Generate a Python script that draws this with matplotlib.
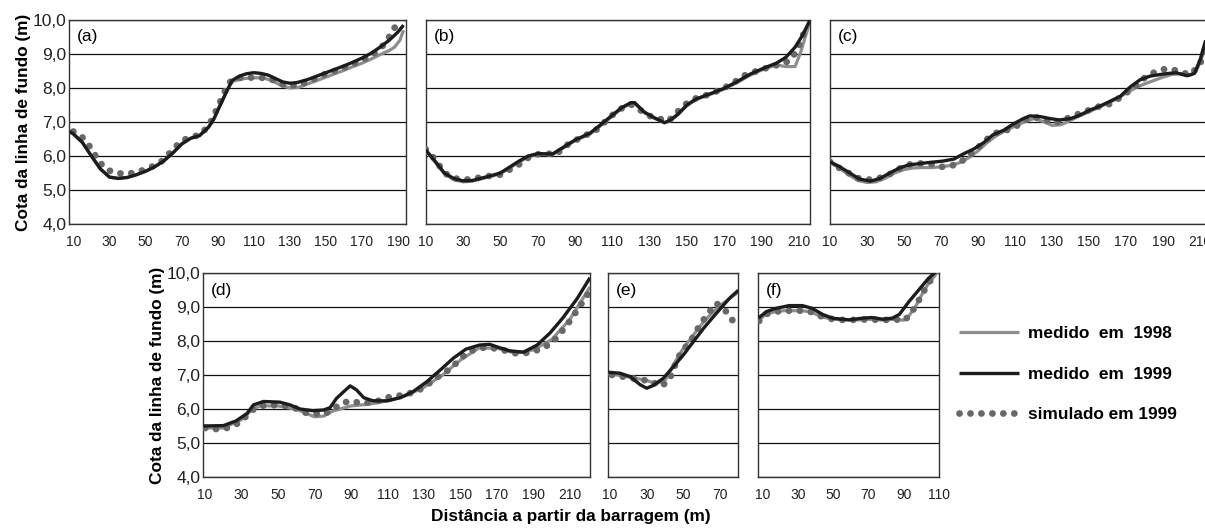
import matplotlib
matplotlib.use("Agg")
import matplotlib.pyplot as plt

plt.rcParams['font.family'] = ['Liberation Sans', 'DejaVu Sans']

# ---------------- data ----------------
# panel (a)
a_x_99 = [8, 10, 15, 20, 25, 30, 35, 40, 45, 50, 55, 60, 65, 70, 75, 80, 85, 88, 91, 95, 98, 102, 106, 110,
          114, 118, 122, 126, 130, 134, 140, 145, 150, 155, 160, 165, 170, 175, 180, 185, 190, 193]
a_y_99 = [6.72, 6.65, 6.4, 6.0, 5.62, 5.38, 5.34, 5.37, 5.45, 5.55, 5.68, 5.85, 6.08, 6.35, 6.52, 6.6, 6.85,
          7.1, 7.45, 7.9, 8.22, 8.35, 8.42, 8.45, 8.43, 8.38, 8.28, 8.18, 8.14, 8.16, 8.25, 8.35, 8.45, 8.55,
          8.65, 8.76, 8.88, 9.02, 9.2, 9.4, 9.65, 9.85]
a_x_98 = [8, 10, 15, 20, 25, 30, 35, 40, 45, 50, 55, 60, 65, 70, 75, 80, 85, 88, 91, 95, 98, 100, 105, 110,
          115, 120, 125, 130, 135, 140, 145, 150, 155, 160, 165, 170, 175, 180, 185, 188, 191, 193]
a_y_98 = [6.72, 6.65, 6.4, 6.0, 5.62, 5.38, 5.34, 5.37, 5.45, 5.55, 5.68, 5.85, 6.08, 6.35, 6.52, 6.6, 6.85,
          7.1, 7.45, 7.9, 8.2, 8.22, 8.28, 8.3, 8.3, 8.22, 8.08, 8.0, 8.02, 8.12, 8.22, 8.32, 8.42, 8.52,
          8.63, 8.73, 8.85, 8.98, 9.1, 9.2, 9.4, 9.7]
a_x_sim = [10, 15, 20, 24, 28, 33, 40, 45, 50, 55, 60, 65, 70, 75, 80, 85, 88, 91, 94, 97, 100, 105, 110,
           115, 120, 125, 130, 135, 140, 145, 150, 155, 160, 165, 170, 175, 180, 184, 187, 190, 192]
a_y_sim = [6.72, 6.55, 6.22, 5.85, 5.62, 5.5, 5.47, 5.53, 5.6, 5.72, 5.88, 6.18, 6.45, 6.55, 6.62, 6.88,
           7.2, 7.55, 7.9, 8.18, 8.28, 8.32, 8.3, 8.3, 8.25, 8.12, 8.06, 8.1, 8.18, 8.3, 8.42, 8.5, 8.6,
           8.7, 8.82, 8.95, 9.15, 9.4, 9.7, 9.9, 9.95]

# panel (b)
b_x_99 = [10, 15, 20, 25, 30, 35, 45, 50, 60, 65, 70, 78, 85, 90, 98, 104, 110, 115, 120, 122, 127, 132,
          138, 141, 145, 150, 155, 162, 170, 177, 184, 191, 198, 203, 208, 212, 216]
b_y_99 = [6.18, 5.85, 5.5, 5.34, 5.27, 5.28, 5.42, 5.5, 5.85, 6.0, 6.07, 6.06, 6.3, 6.47, 6.67, 6.93, 7.2,
          7.42, 7.57, 7.57, 7.3, 7.14, 6.98, 7.05, 7.22, 7.5, 7.68, 7.82, 7.99, 8.19, 8.41, 8.58, 8.73,
          8.9, 9.2, 9.55, 10.0]
b_x_98 = [10, 15, 20, 25, 30, 35, 45, 50, 60, 65, 70, 78, 85, 90, 98, 104, 110, 115, 120, 122, 127, 132,
          138, 141, 145, 150, 155, 162, 170, 177, 184, 191, 198, 203, 208, 211, 214, 216]
b_y_98 = [6.15, 5.82, 5.48, 5.3, 5.24, 5.26, 5.4, 5.48, 5.82, 5.98, 6.05, 6.04, 6.28, 6.45, 6.64, 6.9, 7.17,
          7.4, 7.55, 7.55, 7.28, 7.12, 6.98, 7.03, 7.2, 7.48, 7.66, 7.8, 7.97, 8.16, 8.38, 8.55, 8.68,
          8.63, 8.63, 9.05, 9.6, 9.95]
b_x_sim = [10, 15, 20, 25, 30, 35, 40, 45, 50, 55, 60, 65, 70, 75, 80, 85, 90, 95, 100, 105, 110, 115, 120,
           125, 130, 135, 140, 145, 150, 155, 160, 165, 170, 175, 180, 185, 190, 195, 200, 205, 209, 212, 214]
b_y_sim = [6.2, 5.9, 5.5, 5.35, 5.3, 5.32, 5.38, 5.42, 5.45, 5.6, 5.75, 5.95, 6.05, 6.07, 6.05, 6.3, 6.45,
           6.6, 6.7, 6.95, 7.2, 7.4, 7.52, 7.35, 7.18, 7.1, 7.02, 7.3, 7.55, 7.7, 7.78, 7.88, 8.0, 8.15, 8.35,
           8.45, 8.55, 8.62, 8.7, 8.8, 9.1, 9.5, 9.85]

# panel (c)
c_x_99 = [10, 15, 21, 26, 32, 37, 42, 48, 53, 62, 71, 77, 82, 87.5, 93, 98, 104, 109, 114.5, 118, 123.5, 129,
          134, 140, 145, 150.5, 156, 161, 167, 172, 177.5, 183, 190, 197, 203, 207, 210, 213]
c_y_99 = [5.83, 5.69, 5.49, 5.32, 5.26, 5.34, 5.49, 5.66, 5.74, 5.8, 5.85, 5.91, 6.06, 6.2, 6.39, 6.62, 6.76,
          6.94, 7.1, 7.18, 7.16, 7.1, 7.06, 7.1, 7.2, 7.35, 7.47, 7.6, 7.76, 8.02, 8.24, 8.35, 8.41, 8.45,
          8.36, 8.43, 8.82, 9.4]
c_x_98 = [10, 15, 20, 25, 30, 35, 40, 45, 50, 55, 60, 65, 70, 75, 80, 85, 90, 95, 100, 105, 110, 115, 120,
          125, 130, 135, 140, 145, 150, 155, 160, 165, 170, 175, 180, 185, 190, 195, 200, 205, 208, 211, 213]
c_y_98 = [5.8, 5.65, 5.45, 5.28, 5.22, 5.24, 5.35, 5.5, 5.6, 5.65, 5.66, 5.66, 5.68, 5.72, 5.8, 5.95, 6.15,
          6.4, 6.6, 6.75, 6.88, 7.0, 7.1, 7.02, 6.9, 6.92, 7.05, 7.18, 7.3, 7.42, 7.55, 7.68, 7.85, 8.0,
          8.12, 8.22, 8.32, 8.4, 8.42, 8.38, 8.5, 8.9, 9.2]
c_x_sim = [10, 15, 20, 25, 30, 35, 40, 45, 50, 55, 60, 65, 70, 75, 80, 85, 90, 95, 100, 105, 110, 115, 120,
           125, 130, 135, 140, 145, 150, 155, 160, 165, 170, 175, 180, 185, 190, 195, 200, 205, 210, 213]
c_y_sim = [5.83, 5.65, 5.5, 5.35, 5.3, 5.33, 5.4, 5.55, 5.7, 5.78, 5.78, 5.76, 5.68, 5.7, 5.8, 6.0, 6.25,
           6.5, 6.68, 6.75, 6.85, 7.05, 7.15, 7.1, 6.98, 7.02, 7.15, 7.25, 7.35, 7.45, 7.5, 7.65, 7.85, 8.05,
           8.3, 8.45, 8.55, 8.55, 8.45, 8.4, 8.7, 9.2]

# panel (d)
d_x_99 = [9, 20, 27, 33, 36.5, 42, 51, 56.5, 62, 69, 75, 78.5, 82, 86, 89.5, 93, 97, 102, 110, 117, 124,
          131.5, 139, 146, 153, 160.5, 166, 171.5, 177, 184.5, 192, 199, 206, 214, 221]
d_y_99 = [5.51, 5.52, 5.66, 5.88, 6.13, 6.23, 6.21, 6.13, 6.01, 5.96, 5.98, 6.05, 6.32, 6.52, 6.69, 6.57,
          6.34, 6.25, 6.25, 6.34, 6.52, 6.81, 7.16, 7.5, 7.77, 7.89, 7.91, 7.81, 7.72, 7.68, 7.89, 8.24,
          8.68, 9.26, 9.87]
d_x_98 = [9, 20, 30, 36, 40, 50, 60, 70, 75, 80, 90, 100, 110, 120, 130, 140, 150, 160, 170, 180, 190,
          200, 210, 221]
d_y_98 = [5.45, 5.45, 5.7, 6.0, 6.1, 6.1, 6.0, 5.78, 5.8, 5.95, 6.1, 6.15, 6.25, 6.4, 6.65, 7.0, 7.45,
          7.8, 7.8, 7.65, 7.75, 8.05, 8.65, 9.6]
d_x_sim = [10, 15, 20, 25, 30, 35, 40, 45, 50, 55, 60, 65, 70, 75, 80, 85, 90, 95, 100, 105, 110, 115,
           120, 125, 130, 135, 140, 145, 150, 155, 160, 165, 170, 175, 180, 185, 190, 195, 200, 205, 210,
           215, 220]
d_y_sim = [5.45, 5.42, 5.42, 5.5, 5.65, 5.95, 6.1, 6.12, 6.12, 6.1, 6.02, 5.9, 5.88, 5.85, 6.0, 6.18, 6.25,
           6.18, 6.2, 6.25, 6.35, 6.38, 6.45, 6.5, 6.65, 6.85, 7.05, 7.2, 7.5, 7.7, 7.8, 7.82, 7.78, 7.72,
           7.65, 7.65, 7.7, 7.8, 7.95, 8.25, 8.6, 9.0, 9.4]

# panel (e)
e_x_99 = [9, 15.5, 21, 26.5, 30, 33.5, 39, 44.5, 50, 55.5, 61, 66.5, 72, 75.5, 80]
e_y_99 = [7.09, 7.06, 6.96, 6.72, 6.62, 6.7, 6.91, 7.25, 7.6, 7.99, 8.38, 8.73, 9.07, 9.28, 9.5]
e_x_98 = [9, 15, 20, 25, 30, 35, 40, 45, 50, 55, 60, 65, 70, 75, 80]
e_y_98 = [7.05, 7.0, 6.95, 6.9, 6.85, 6.75, 6.85, 7.35, 7.8, 8.15, 8.5, 8.8, 9.05, 9.25, 9.45]
e_x_sim = [11, 17, 24.5, 32, 38, 42.5, 45.5, 48, 52, 55.5, 59, 63.5, 68, 73.5, 78]
e_y_sim = [7.01, 6.96, 6.89, 6.83, 6.67, 6.89, 7.3, 7.6, 7.89, 8.14, 8.48, 8.82, 9.12, 8.87, 8.53]

# panel (f)
f_x_99 = [7.5, 12, 17.5, 25, 32.5, 38, 44, 49.5, 59, 66.5, 72, 78, 83.5, 87.5, 93, 98.5, 104, 109.5]
f_y_99 = [8.68, 8.87, 8.97, 9.05, 9.05, 8.97, 8.79, 8.68, 8.63, 8.68, 8.7, 8.65, 8.68, 8.79, 9.17, 9.51,
          9.85, 10.1]
f_x_98 = [7.5, 12, 17, 22, 27, 32, 37, 40, 45, 50, 55, 60, 65, 70, 75, 80, 85, 90, 93, 97, 100, 104, 109.5]
f_y_98 = [8.62, 8.8, 8.87, 8.9, 8.9, 8.9, 8.87, 8.8, 8.7, 8.65, 8.63, 8.63, 8.63, 8.65, 8.63, 8.63, 8.65,
          8.62, 8.75, 9.05, 9.35, 9.7, 10.05]
f_x_sim = [8, 12, 17, 22, 27, 32, 37, 40, 45, 50, 55, 60, 65, 70, 75, 80, 85, 90, 93, 97, 100, 104, 108]
f_y_sim = [8.6, 8.8, 8.87, 8.9, 8.9, 8.9, 8.87, 8.8, 8.7, 8.65, 8.63, 8.63, 8.63, 8.65, 8.63, 8.63, 8.65,
           8.6, 8.75, 9.05, 9.35, 9.7, 10.0]

y_ticks = [4.0, 5.0, 6.0, 7.0, 8.0, 9.0, 10.0]
y_tick_labels = ['4,0', '5,0', '6,0', '7,0', '8,0', '9,0', '10,0']
legend_labels = ['medido  em  1998', 'medido  em  1999', 'simulado em 1999']
y_label = 'Cota da linha de fundo (m)'
x_label = 'Distância a partir da barragem (m)'

# ---------------- figure ----------------
W, H = 1205, 529
fig = plt.figure(figsize=(W / 100, H / 100), dpi=100)

C98 = '#8e8e8e'
C99 = '#1c1c1c'
CSIM = '#686868'


def make_ax(l, r, t, b):
    return fig.add_axes([l / W, 1 - b / H, (r - l) / W, (b - t) / H])


panels = [
    ('(a)', (69, 406, 20, 224), (7.6, 194.4), list(range(10, 191, 20)),
     (a_x_98, a_y_98), (a_x_99, a_y_99), (a_x_sim, a_y_sim), True),
    ('(b)', (425.7, 810, 20, 224), (10, 216), list(range(10, 211, 20)),
     (b_x_98, b_y_98), (b_x_99, b_y_99), (b_x_sim, b_y_sim), False),
    ('(c)', (830, 1208, 20, 224), (10, 214.3), list(range(10, 211, 20)),
     (c_x_98, c_y_98), (c_x_99, c_y_99), (c_x_sim, c_y_sim), False),
    ('(d)', (203.3, 590, 273.3, 477.3), (9, 221), list(range(10, 211, 20)),
     (d_x_98, d_y_98), (d_x_99, d_y_99), (d_x_sim, d_y_sim), True),
    ('(e)', (608.3, 738.3, 273.3, 477.3), (9, 80), list(range(10, 71, 20)),
     (e_x_98, e_y_98), (e_x_99, e_y_99), (e_x_sim, e_y_sim), False),
    ('(f)', (758.3, 939, 273.3, 477.3), (7.5, 109.5), list(range(10, 111, 20)),
     (f_x_98, f_y_98), (f_x_99, f_y_99), (f_x_sim, f_y_sim), False),
]

handles = None
for tag, box, xlim, xt, s98, s99, ssim, show_y in panels:
    ax = make_ax(*box)
    ax.set_xlim(*xlim)
    ax.set_ylim(4, 10)
    ax.set_yticks(y_ticks)
    ax.set_xticks(xt)
    ax.set_xticklabels([str(v) for v in xt], fontsize=10)
    if show_y:
        ax.set_yticklabels(y_tick_labels, fontsize=12.5)
        ax.set_ylabel(y_label, fontsize=12.4, fontweight='bold', labelpad=1)
    else:
        ax.set_yticklabels([])
    ax.tick_params(axis='both', length=0, colors='#222222')
    ax.tick_params(axis='x', pad=8)
    ax.tick_params(axis='y', pad=2)
    ax.yaxis.grid(True, color='#111111', lw=0.9)
    ax.set_axisbelow(True)
    for sp in ax.spines.values():
        sp.set_color('#333333')
        sp.set_linewidth(1.0)
    l98, = ax.plot(s98[0], s98[1], color=C98, lw=2.3, solid_capstyle='butt', zorder=3)
    lsim, = ax.plot(ssim[0], ssim[1], color=CSIM, lw=4.9, linestyle=(0, (0.01, 1.6)),
                    dash_capstyle='round', zorder=4)
    l99, = ax.plot(s99[0], s99[1], color=C99, lw=2.4, solid_capstyle='butt', zorder=5)
    ax.annotate(tag, xy=(0, 1), xycoords='axes fraction', xytext=(8, -17),
                textcoords='offset pixels', ha='left', va='center', fontsize=12.5)
    if handles is None:
        handles = [l98, l99, lsim]

fig.text(570.8 / W, 1 - 517 / H, x_label, ha='center', va='center', fontsize=12.4, fontweight='bold')

leg = fig.legend(handles, legend_labels, loc='upper left', bbox_to_anchor=(950 / W, 1 - 317 / H),
                 frameon=False, prop={'size': 12.4, 'weight': 'bold'}, handlelength=3.5,
                 handletextpad=0.5, labelspacing=1.5, borderpad=0)

fig.savefig('out.png', dpi=100)
